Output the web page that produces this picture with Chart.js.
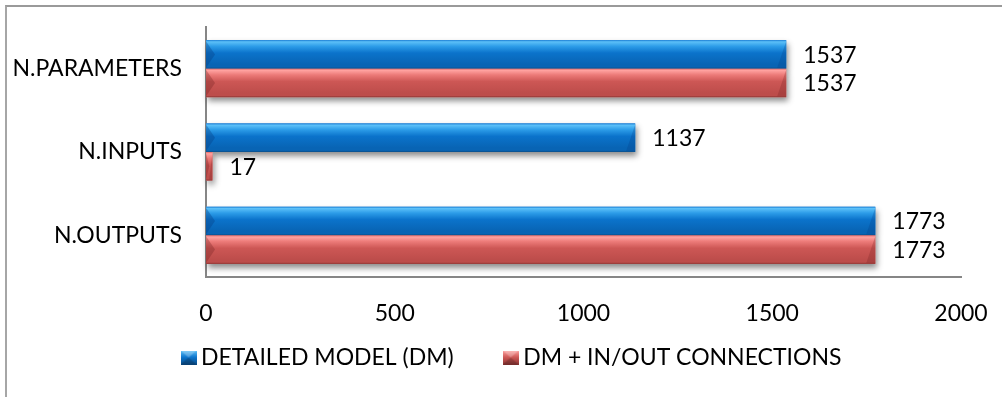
<!DOCTYPE html>
<html>
<head>
<meta charset="utf-8">
<script src="https://cdn.jsdelivr.net/npm/chart.js@4/dist/chart.umd.min.js"></script>
<style>
  html, body { margin: 0; padding: 0; background: #fff; overflow: hidden; }
  #wrap { position: relative; width: 1002px; height: 397px; overflow: hidden; }
  #frame { position: absolute; left: 5px; top: 5px; width: 1200px; height: 600px;
           border-left: 2px solid #a6a6a6; border-top: 2px solid #9a9a9a; box-sizing: border-box; }
  canvas { position: absolute; left: 0; top: 0; }
</style>
</head>
<body>
<div id="wrap">
  <div id="frame"></div>
  <canvas id="c" width="1002" height="397"></canvas>
</div>
<script>
// Categories and series
const categories = ['N.PARAMETERS', 'N.INPUTS', 'N.OUTPUTS'];
const seriesNames = ['DETAILED MODEL (DM)', 'DM + IN/OUT CONNECTIONS'];
const detailedModel = [1537, 1137, 1773];
const withConnections = [1537, 17, 1773];
const xTicks = [0, 500, 1000, 1500, 2000];

const FONT = 'Lato, "Open Sans", sans-serif';
const FONT_SIZE = 23;

// Bevel palettes for the two series
const palettes = [
  { edge: '#1a7fd6', hi: '#5cc0f8', up: '#2c9ce8', body: '#0b73cb', low: '#0864b4', bot: '#0a4d88',
    left: 'rgba(5,60,130,0.35)', right: 'rgba(5,60,130,0.25)', solid: '#0b73cb' },
  { edge: '#e06a68', hi: '#ffa2a0', up: '#ec7a78', body: '#cd5755', low: '#bd4d4b', bot: '#8c3634',
    left: 'rgba(110,30,30,0.30)', right: 'rgba(110,30,30,0.25)', solid: '#cd5755' }
];

function bevelFill(ctx, left, top, w, h, p) {
  const g = ctx.createLinearGradient(0, top, 0, top + h);
  g.addColorStop(0, p.edge);
  g.addColorStop(0.06, p.hi);
  g.addColorStop(0.22, p.up);
  g.addColorStop(0.45, p.body);
  g.addColorStop(0.85, p.low);
  g.addColorStop(0.94, p.low);
  g.addColorStop(1, p.bot);
  ctx.fillStyle = g;
  ctx.fillRect(left, top, w, h);
  const b = Math.min(9, w / 2, h / 2);
  // left face
  ctx.fillStyle = p.left;
  ctx.beginPath();
  ctx.moveTo(left, top + 1);
  ctx.lineTo(left + b, top + h / 2);
  ctx.lineTo(left, top + h - 1);
  ctx.closePath();
  ctx.fill();
  // right face
  ctx.fillStyle = p.right;
  ctx.beginPath();
  ctx.moveTo(left + w, top + 1);
  ctx.lineTo(left + w, top + h - 1);
  ctx.lineTo(left + w - b, top + h - 1);
  ctx.closePath();
  ctx.fill();
}

function legendIcon(p) {
  const cv = document.createElement('canvas');
  cv.width = 16; cv.height = 14;
  const ctx = cv.getContext('2d');
  const g = ctx.createLinearGradient(0, 0, 0, 14);
  g.addColorStop(0, p.hi);
  g.addColorStop(0.5, p.body);
  g.addColorStop(1, p.bot);
  ctx.fillStyle = g;
  ctx.fillRect(0, 0, 16, 14);
  ctx.fillStyle = 'rgba(255,255,255,0.25)';
  ctx.beginPath(); ctx.moveTo(0, 0); ctx.lineTo(16, 0); ctx.lineTo(8, 7); ctx.closePath(); ctx.fill();
  ctx.fillStyle = 'rgba(0,0,0,0.18)';
  ctx.beginPath(); ctx.moveTo(0, 14); ctx.lineTo(16, 14); ctx.lineTo(8, 7); ctx.closePath(); ctx.fill();
  return cv;
}
const icons = palettes.map(legendIcon);

function barBox(el) {
  const { x, y, base, height } = el.getProps(['x', 'y', 'base', 'height'], true);
  const left = Math.min(x, base), right = Math.max(x, base);
  return { left, right, top: y - height / 2, h: height, cy: y };
}

// Soft drop shadows beneath the bars, then bevelled bar faces and value labels
const bevelBars = {
  id: 'bevelBars',
  beforeDatasetsDraw(chart) {
    const ctx = chart.ctx;
    ctx.save();
    chart.data.datasets.forEach((ds, di) => {
      chart.getDatasetMeta(di).data.forEach(el => {
        const b = barBox(el);
        ctx.shadowColor = 'rgba(0,0,0,0.45)';
        ctx.shadowBlur = 6;
        ctx.shadowOffsetX = 2;
        ctx.shadowOffsetY = 4;
        ctx.fillStyle = '#ffffff';
        ctx.fillRect(b.left, b.top, b.right - b.left, b.h);
      });
    });
    ctx.restore();
  },
  afterDatasetsDraw(chart) {
    const ctx = chart.ctx;
    ctx.save();
    chart.data.datasets.forEach((ds, di) => {
      chart.getDatasetMeta(di).data.forEach((el, i) => {
        const b = barBox(el);
        bevelFill(ctx, b.left, b.top, b.right - b.left, b.h, palettes[di]);
        ctx.fillStyle = '#000';
        ctx.font = FONT_SIZE + 'px ' + FONT;
        ctx.textAlign = 'left';
        ctx.textBaseline = 'middle';
        ctx.fillText(String(ds.data[i]), b.right + 17, b.cy + 1);
      });
    });
    ctx.restore();
  }
};

// Place the legend row under the axis labels, centred under the frame
const legendPlace = {
  id: 'legendPlace',
  afterLayout(chart) {
    const lg = chart.legend;
    if (!lg) return;
    const dx = 34;
    lg.left += dx; lg.right += dx;
    lg.top = 290; lg.bottom = chart.height;
    lg.height = lg.bottom - lg.top;
    if (lg.adjustHitBoxes) lg.adjustHitBoxes();
  }
};

new Chart(document.getElementById('c'), {
  type: 'bar',
  data: {
    labels: categories,
    datasets: [
      { label: seriesNames[0], data: detailedModel, backgroundColor: palettes[0].solid,
        pointStyle: icons[0], borderWidth: 0 },
      { label: seriesNames[1], data: withConnections, backgroundColor: palettes[1].solid,
        pointStyle: icons[1], borderWidth: 0 }
    ]
  },
  options: {
    indexAxis: 'y',
    responsive: false,
    animation: false,
    devicePixelRatio: 1,
    categoryPercentage: 0.685,
    barPercentage: 1,
    layout: { padding: { left: 0, right: 41, top: 27, bottom: 25 } },
    scales: {
      x: {
        min: 0, max: 2000,
        afterBuildTicks(scale) { scale.ticks = xTicks.map(v => ({ value: v })); },
        afterFit(scale) { scale.height = 55; scale.paddingLeft = 0; scale.paddingRight = 0; },
        grid: { display: false },
        border: { display: true, color: '#868686', width: 2 },
        ticks: { color: '#000', font: { family: FONT, size: FONT_SIZE }, padding: 15,
                 callback: v => String(v) }
      },
      y: {
        afterFit(scale) { scale.width = 206; scale.paddingTop = 0; scale.paddingBottom = 0; },
        grid: { display: false },
        border: { display: true, color: '#868686', width: 2 },
        ticks: { color: '#000', font: { family: FONT, size: FONT_SIZE }, padding: 16 }
      }
    },
    plugins: {
      tooltip: { enabled: false },
      legend: {
        position: 'bottom',
        maxHeight: 40,
        labels: {
          usePointStyle: true,
          pointStyleWidth: 2,
          color: '#000',
          font: { family: FONT, size: FONT_SIZE },
          padding: 56
        }
      }
    }
  },
  plugins: [bevelBars, legendPlace]
});
</script>
</body>
</html>
